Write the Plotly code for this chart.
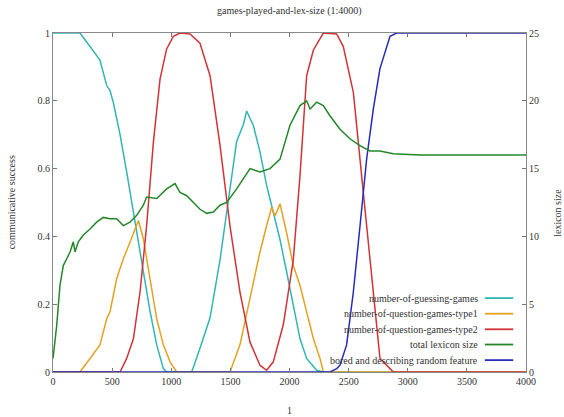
import plotly.graph_objects as go

# ---- data ----
guess_x = [0, 228, 313, 397, 454, 482, 510, 567, 623, 680, 708, 764, 820, 877, 933, 961,
           1173, 1243, 1328, 1412, 1497, 1553, 1610, 1638, 1694, 1750, 1807, 1863, 1920, 1976,
           2032, 2089, 2145, 2230, 2286, 4000]
guess_y = [1.0, 1.0, 0.96, 0.92, 0.845, 0.83, 0.795, 0.70, 0.59, 0.47, 0.41, 0.295, 0.18, 0.08, 0.01, 0.0,
           0.0, 0.07, 0.16, 0.33, 0.55, 0.68, 0.73, 0.77, 0.727, 0.65, 0.55, 0.47, 0.39, 0.295,
           0.196, 0.098, 0.04, 0.005, 0.0, 0.0]

q1_x = [0, 228, 313, 397, 454, 482, 538, 595, 651, 708, 722, 764, 820, 877, 933, 990, 1046,
        1497, 1581, 1666, 1750, 1807, 1849, 1877, 1920, 1976, 2032, 2089, 2145, 2202, 2258, 2286, 4000]
q1_y = [0.0, 0.0, 0.04, 0.08, 0.157, 0.177, 0.275, 0.334, 0.383, 0.432, 0.447, 0.393, 0.275, 0.157, 0.08, 0.03, 0.0,
        0.0, 0.08, 0.216, 0.354, 0.432, 0.486, 0.46, 0.496, 0.41, 0.314, 0.255, 0.177, 0.098, 0.04, 0.0, 0.0]

q2_x = [0, 567, 623, 680, 736, 792, 849, 905, 961, 1018, 1074, 1159, 1243, 1328, 1412, 1497, 1581,
        1666, 1750, 1807, 1863, 1948, 2032, 2089, 2145, 2202, 2286, 2399, 2455, 2540, 2624, 2709, 2765,
        2850, 2878, 4000]
q2_y = [0.0, 0.0, 0.04, 0.098, 0.236, 0.432, 0.678, 0.864, 0.953, 0.99, 1.0, 0.997, 0.97, 0.874, 0.67, 0.43, 0.236,
        0.088, 0.02, 0.005, 0.03, 0.14, 0.33, 0.58, 0.874, 0.95, 1.0, 0.997, 0.96, 0.825, 0.53, 0.236, 0.04,
        0.01, 0.0, 0.0]

lex_x = [0, 31, 59, 87, 116, 144, 172, 186, 214, 257, 313, 369, 426, 482, 538, 595, 651, 708, 764,
         792, 877, 961, 1032, 1074, 1131, 1187, 1243, 1300, 1356, 1412, 1469, 1553, 1666, 1750, 1835,
         1920, 2004, 2089, 2145, 2174, 2230, 2286, 2342, 2427, 2511, 2596, 2681, 2765, 2878, 3103, 4000]
lex_y = [1.0, 3.4, 6.4, 7.85, 8.35, 8.85, 9.6, 8.85, 9.6, 10.1, 10.55, 11.05, 11.4, 11.3, 11.3, 10.8, 11.05, 11.55, 12.3,
         12.9, 12.8, 13.5, 13.9, 13.25, 13.0, 12.5, 12.0, 11.7, 11.8, 12.3, 12.5, 13.5, 15.0, 14.75, 15.0,
         15.7, 18.2, 19.65, 20.0, 19.4, 19.9, 19.65, 18.9, 17.9, 17.2, 16.7, 16.3, 16.3, 16.1, 16.0, 16.0]

bored_x = [0, 2342, 2400, 2427, 2483, 2540, 2596, 2653, 2709, 2765, 2850, 2906, 4000]
bored_y = [0.0, 0.0, 0.01, 0.02, 0.08, 0.236, 0.43, 0.63, 0.776, 0.895, 0.99, 1.0, 1.0]

names = ["number-of-guessing-games", "number-of-question-games-type1",
         "number-of-question-games-type2", "total lexicon size",
         "bored and describing random feature"]
colors = ["#33b5b5", "#e3a222", "#d03438", "#23872a", "#2a2ab8"]

FONT = "Liberation Serif"
TXT = "#333333"

fig = go.Figure()
series = [(guess_x, guess_y, "y"), (q1_x, q1_y, "y"), (q2_x, q2_y, "y"),
          (lex_x, lex_y, "y2"), (bored_x, bored_y, "y")]
for (xs, ys, ax), nm, c in zip(series, names, colors):
    fig.add_trace(go.Scatter(x=xs, y=ys, name=nm, mode="lines", yaxis=ax,
                             line=dict(color=c, width=1.5), showlegend=False))

# manual gnuplot-style legend (text left, sample line right)
leg_y = [0.218, 0.172, 0.126, 0.081, 0.035]
for nm, c, ly in zip(names, colors, leg_y):
    fig.add_annotation(x=0.903, y=ly, xref="paper", yref="paper", text=nm,
                       showarrow=False, xanchor="right", yanchor="middle",
                       font=dict(family=FONT, size=10, color=TXT))
    fig.add_shape(type="line", xref="paper", yref="paper", x0=0.913, x1=0.973,
                  y0=ly, y1=ly, line=dict(color=c, width=1.8))

# axis titles placed like gnuplot
fig.add_annotation(x=-0.087, y=0.5, xref="paper", yref="paper", text="communicative success",
                   textangle=-90, showarrow=False, xanchor="center", yanchor="middle",
                   font=dict(family=FONT, size=10, color=TXT))
fig.add_annotation(x=1.068, y=0.47, xref="paper", yref="paper", text="lexicon size",
                   textangle=-90, showarrow=False, xanchor="center", yanchor="middle",
                   font=dict(family=FONT, size=10, color=TXT))
fig.add_annotation(x=0.5, y=-0.113, xref="paper", yref="paper", text="1",
                   showarrow=False, xanchor="center", yanchor="middle",
                   font=dict(family=FONT, size=10, color=TXT))

axis_common = dict(showgrid=False, zeroline=False, ticks="inside", ticklen=4,
                   tickcolor="#777777", linecolor="#888888", linewidth=1, showline=True,
                   automargin=False,
                   tickfont=dict(family=FONT, size=10, color=TXT))

fig.update_layout(
    width=564, height=417,
    margin=dict(l=53, r=38, t=33, b=45),
    paper_bgcolor="white", plot_bgcolor="white",
    hovermode=False,
    title=dict(text="games-played-and-lex-size (1:4000)", x=0.513, xanchor="center",
               y=0.976, yanchor="middle", font=dict(family=FONT, size=10, color=TXT)),
    xaxis=dict(range=[0, 4000], dtick=500, mirror="ticks", **axis_common),
    yaxis=dict(range=[0, 1], dtick=0.2, **axis_common),
    yaxis2=dict(range=[0, 25], dtick=5, overlaying="y", side="right", **axis_common),
)

fig.write_html("out.html", config={"displayModeBar": False},
               post_script="document.body.style.margin='0';")
